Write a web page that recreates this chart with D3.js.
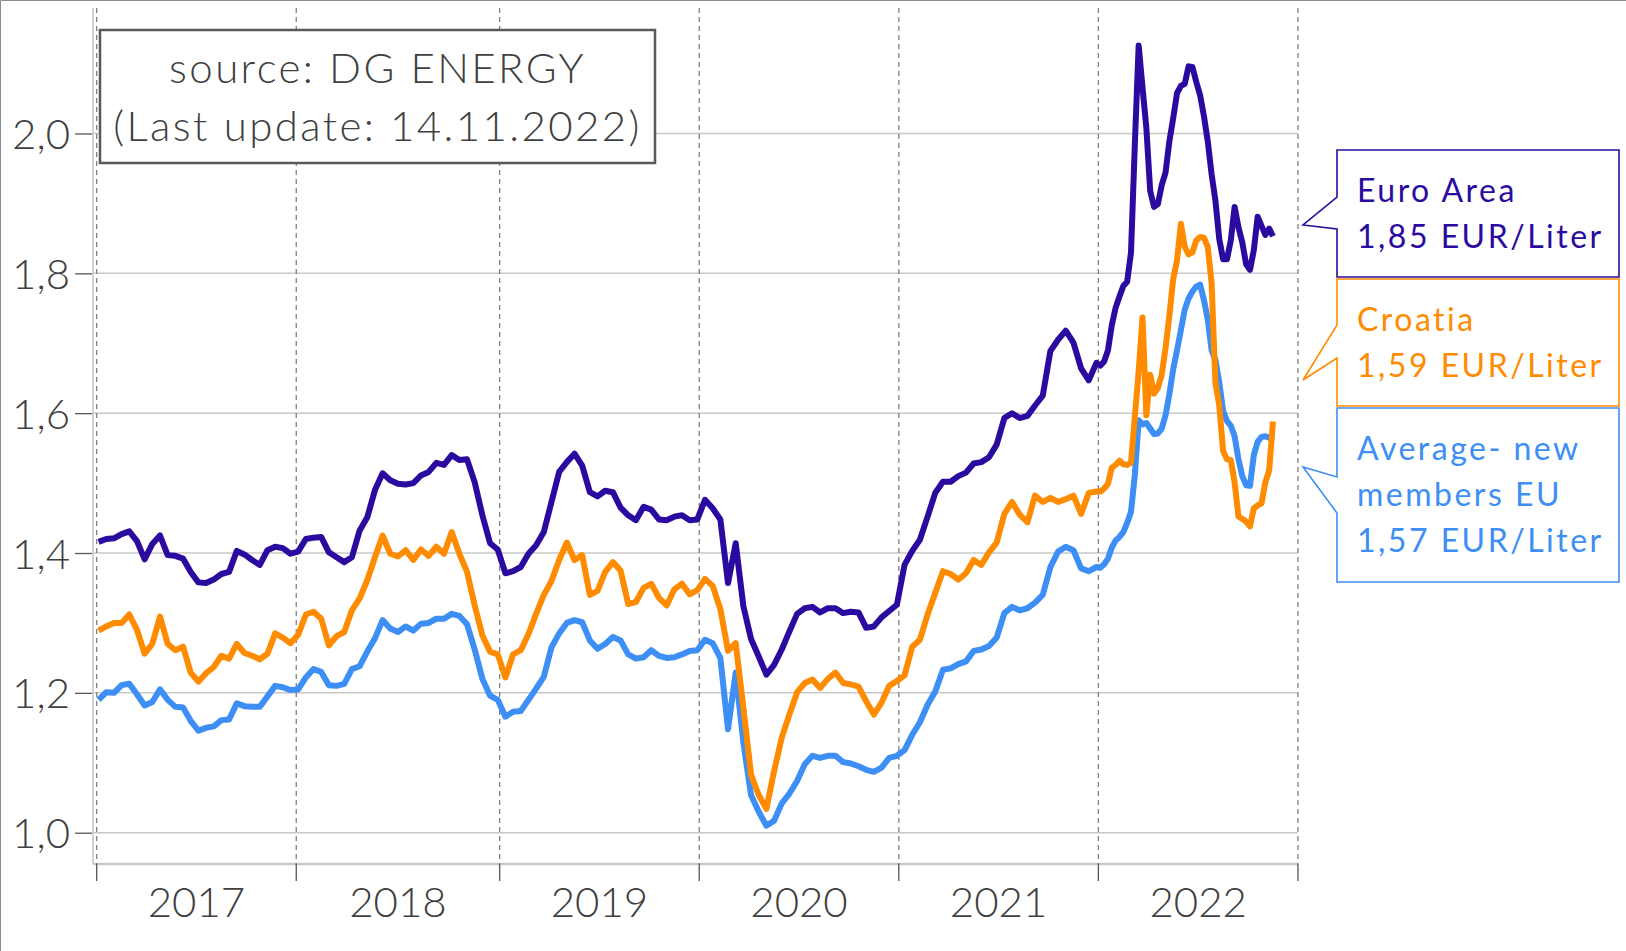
<!DOCTYPE html>
<meta charset="utf-8">
<style>
body{ margin:0; background:#fff; }
svg{ display:block; }
text{ font-family: Lato, "Open Sans", sans-serif; }
</style>
<body>
<script src="https://cdn.jsdelivr.net/npm/d3@7"></script>
<script>

// weekly prices (Mondays). every 2nd week until end of 2021, every week in 2022
var firstWeek = "2017-01-02";
var weekNo = d3.range(0, 261, 2).concat(d3.range(261, 307));

var euroArea = [
  1.416,1.420,1.421,1.427,1.431,1.417,1.391,1.413,1.425,1.397,1.396,1.392,1.373,1.358,1.357,1.362,1.370,1.373,1.403,1.398,1.390,1.383,1.404,1.409,1.407,1.399,
  1.402,1.420,1.422,1.423,1.401,1.394,1.387,1.394,1.432,1.451,1.490,1.514,1.504,1.499,1.498,1.500,1.511,1.516,1.529,1.526,1.540,1.533,1.534,1.501,1.454,1.414,
  1.405,1.371,1.374,1.380,1.399,1.411,1.430,1.473,1.516,1.530,1.542,1.525,1.487,1.481,1.489,1.487,1.465,1.454,1.447,1.466,1.462,1.448,1.447,1.452,1.454,1.447,
  1.448,1.476,1.464,1.448,1.357,1.414,1.324,1.277,1.252,1.226,1.240,1.262,1.288,1.313,1.321,1.323,1.315,1.321,1.321,1.314,1.316,1.315,1.293,1.295,1.308,1.317,
  1.326,1.383,1.403,1.419,1.452,1.486,1.502,1.502,1.510,1.515,1.528,1.530,1.537,1.555,1.593,1.600,1.593,1.596,1.611,1.625,1.689,1.705,1.718,1.701,1.664,1.647,1.672,
  1.668,1.674,1.690,1.726,1.751,1.767,1.782,1.788,1.830,1.984,2.126,2.066,2.008,1.918,1.895,1.899,1.926,1.944,1.989,2.022,2.058,2.068,2.071,
  2.096,2.095,2.074,2.055,2.025,1.989,1.942,1.904,1.849,1.820,1.820,1.847,1.895,1.866,1.844,1.813,1.805,1.833,1.881,1.868,1.855,1.864,1.853
];
var croatia = [
  1.289,1.295,1.300,1.300,1.312,1.290,1.256,1.270,1.309,1.270,1.261,1.266,1.229,1.216,1.228,1.237,1.253,1.249,1.270,1.257,1.253,1.248,1.256,1.285,1.279,1.271,
  1.283,1.312,1.316,1.306,1.268,1.281,1.287,1.318,1.335,1.361,1.394,1.425,1.399,1.395,1.404,1.390,1.405,1.396,1.409,1.399,1.430,1.399,1.373,1.325,1.282,1.259,
  1.255,1.222,1.255,1.261,1.284,1.313,1.340,1.360,1.390,1.415,1.390,1.397,1.340,1.346,1.373,1.387,1.375,1.327,1.330,1.350,1.356,1.336,1.325,1.348,1.356,1.341,
  1.347,1.363,1.353,1.320,1.260,1.271,1.179,1.083,1.054,1.034,1.088,1.136,1.169,1.201,1.214,1.219,1.207,1.220,1.229,1.214,1.212,1.209,1.188,1.169,1.186,1.210,
  1.217,1.225,1.266,1.276,1.312,1.343,1.374,1.370,1.362,1.371,1.390,1.383,1.401,1.415,1.456,1.473,1.455,1.444,1.482,1.473,1.479,1.473,1.477,1.482,1.456,1.486,1.488,
  1.488,1.492,1.499,1.522,1.526,1.532,1.527,1.526,1.529,1.595,1.660,1.737,1.597,1.655,1.628,1.636,1.655,1.693,1.740,1.792,1.819,1.871,1.838,
  1.827,1.830,1.847,1.852,1.851,1.838,1.786,1.643,1.611,1.546,1.534,1.533,1.501,1.452,1.449,1.445,1.438,1.464,1.468,1.471,1.501,1.518,1.588
];
var newMembers = [
  1.190,1.201,1.200,1.211,1.213,1.198,1.182,1.187,1.205,1.190,1.180,1.179,1.160,1.146,1.150,1.152,1.161,1.162,1.185,1.181,1.180,1.180,1.195,1.210,1.208,1.204,
  1.205,1.222,1.234,1.230,1.211,1.210,1.213,1.234,1.238,1.259,1.278,1.304,1.292,1.287,1.295,1.289,1.299,1.300,1.306,1.306,1.313,1.310,1.298,1.262,1.220,1.196,
  1.190,1.166,1.173,1.174,1.190,1.206,1.223,1.265,1.285,1.300,1.304,1.301,1.275,1.263,1.270,1.280,1.275,1.255,1.249,1.251,1.261,1.253,1.250,1.251,1.255,1.260,
  1.261,1.276,1.271,1.250,1.148,1.229,1.129,1.054,1.030,1.010,1.017,1.042,1.056,1.074,1.098,1.110,1.107,1.110,1.110,1.101,1.099,1.095,1.090,1.087,1.093,1.107,
  1.110,1.118,1.140,1.158,1.183,1.202,1.233,1.235,1.241,1.245,1.260,1.262,1.267,1.279,1.314,1.323,1.318,1.321,1.329,1.340,1.380,1.402,1.409,1.404,1.378,1.374,1.380,
  1.379,1.384,1.392,1.408,1.418,1.423,1.430,1.443,1.459,1.512,1.590,1.584,1.586,1.578,1.570,1.571,1.578,1.597,1.627,1.663,1.690,1.719,1.748,
  1.764,1.774,1.781,1.784,1.762,1.734,1.690,1.676,1.644,1.603,1.589,1.582,1.567,1.534,1.510,1.497,1.496,1.540,1.559,1.566,1.567,1.565,1.568
];

var years = [2017, 2018, 2019, 2020, 2021, 2022, 2023];
var yTicks = [1.0, 1.2, 1.4, 1.6, 1.8, 2.0];
var seriesNames = ["Average- new members EU", "Croatia", "Euro Area"];
var colors = ["#3d8ef5", "#ff8c00", "#2b0b9f"];
var sourceLines = ["source: DG ENERGY", "(Last update: 14.11.2022)"];

var width = 1626, height = 951;
var plotTop = 8, plotBottom = 864, plotLeft = 93;

var t0 = d3.utcParse("%Y-%m-%d")(firstWeek);
var dates = weekNo.map(function(n) { return d3.utcDay.offset(t0, 7 * n); });

var x = d3.scaleUtc()
    .domain([dates[0], dates[dates.length - 1]])
    .range([98.6, 1273]);
var y = d3.scaleLinear()
    .domain([1, 2])
    .range([832.7, 133.5]);

// year borders sit between the last week of a year and the first one of the next
function yearBorder(yr) {
  var m = d3.utcMonday.ceil(new Date(Date.UTC(yr, 0, 1)));
  return x(new Date(+m - 3.5 * 864e5));
}
var plotRight = yearBorder(2023);
var comma = function(v, f) { return d3.format(f)(v).replace(".", ","); };

var svg = d3.select("body").append("svg")
    .attr("width", width)
    .attr("height", height);

// image frame
svg.append("path").attr("d", "M0.5," + height + "V0.5H" + width)
    .attr("fill", "none").attr("stroke", "#8c8c8c");

// horizontal grid
svg.append("g").selectAll("line").data(yTicks).enter().append("line")
    .attr("x1", plotLeft).attr("x2", plotRight)
    .attr("y1", function(d) { return y(d); }).attr("y2", function(d) { return y(d); })
    .attr("stroke", "#c8c8c8").attr("stroke-width", 1.5);

// frame of plot
svg.append("line").attr("x1", plotLeft).attr("x2", plotLeft).attr("y1", plotTop).attr("y2", plotBottom)
    .attr("stroke", "#c4c4c4").attr("stroke-width", 1.5);
svg.append("line").attr("x1", plotLeft).attr("x2", plotRight).attr("y1", plotBottom).attr("y2", plotBottom)
    .attr("stroke", "#c8c8c8").attr("stroke-width", 2.5);

// year separators + ticks
var yr = svg.append("g").selectAll("g").data(years).enter().append("g");
yr.append("line")
    .attr("x1", yearBorder).attr("x2", yearBorder)
    .attr("y1", plotTop).attr("y2", plotBottom)
    .attr("stroke", "#808080").attr("stroke-width", 1.3).attr("stroke-dasharray", "5,4");
yr.append("line")
    .attr("x1", yearBorder).attr("x2", yearBorder)
    .attr("y1", plotBottom).attr("y2", plotBottom + 17)
    .attr("stroke", "#555").attr("stroke-width", 1.3);

svg.append("g").selectAll("text").data(years.slice(0, -1)).enter().append("text")
    .attr("x", function(d) { return (yearBorder(d) + yearBorder(d + 1)) / 2; })
    .attr("y", 917)
    .attr("text-anchor", "middle")
    .style("font-size", "42px").style("font-weight", 300).attr("fill", "#404040")
    .text(function(d) { return d; });

// y axis
var yAxis = svg.append("g")
    .attr("transform", "translate(" + (plotLeft - 1) + ",0)")
    .call(d3.axisLeft(y).tickValues(yTicks).tickSize(17).tickPadding(5)
      .tickFormat(function(d) { return comma(d, ".1f"); }));
yAxis.select(".domain").remove();
yAxis.selectAll(".tick line").attr("stroke", "#555").attr("stroke-width", 1.3);
yAxis.selectAll(".tick text")
    .attr("dy", null).attr("y", 15)
    .style("font-size", "42px").style("font-weight", 300)
    .style("font-family", "Lato, 'Open Sans', sans-serif").attr("fill", "#404040");

// lines
var line = d3.line()
    .defined(function(d) { return d.v != null; })
    .x(function(d) { return x(d.date); })
    .y(function(d) { return y(d.v); });

[newMembers, croatia, euroArea].forEach(function(vals, i) {
  var pts = dates.map(function(d, j) { return {date: d, v: vals[j]}; });
  svg.append("path")
      .datum(pts)
      .attr("fill", "none")
      .attr("stroke", colors[i])
      .attr("stroke-width", 6)
      .attr("stroke-linejoin", "round")
      .attr("d", line);
});

// source box
svg.append("rect").attr("x", 100).attr("y", 30).attr("width", 555).attr("height", 133)
    .attr("fill", "#fff").attr("stroke", "#595959").attr("stroke-width", 2.5);
svg.append("g").selectAll("text").data(sourceLines).enter().append("text")
    .attr("x", 377.5)
    .attr("y", function(d, i) { return 83 + i * 58; })
    .attr("text-anchor", "middle")
    .style("font-size", "42px").style("font-weight", 300).style("letter-spacing", "2.4px")
    .attr("fill", "#404040")
    .text(function(d) { return d; });

// callouts (box with pointer towards the last value)
var callouts = [
  {lines: ["Euro Area", comma(euroArea[euroArea.length - 1], ".2f") + " EUR/Liter"], c: colors[2],
   top: 150, bottom: 277, n1: 197, n2: 229, tip: 225},
  {lines: ["Croatia", comma(croatia[croatia.length - 1], ".2f") + " EUR/Liter"], c: colors[1],
   top: 279, bottom: 406, n1: 325, n2: 358, tip: 380},
  {lines: ["Average- new", "members EU", comma(newMembers[newMembers.length - 1], ".2f") + " EUR/Liter"], c: colors[0],
   top: 408, bottom: 582, n1: 477, n2: 513, tip: 467}
];
var bx0 = 1337, bx1 = 1619, tipX = 1303;
callouts.forEach(function(o) {
  svg.append("path")
      .attr("d", "M" + bx0 + "," + o.top + "H" + bx1 + "V" + o.bottom + "H" + bx0 +
                 "V" + o.n2 + "L" + tipX + "," + o.tip + "L" + bx0 + "," + o.n1 + "Z")
      .attr("fill", "#fff").attr("stroke", o.c).attr("stroke-width", 1.6);
  o.lines.forEach(function(t, i) {
    svg.append("text")
        .attr("x", 1357)
        .attr("y", o.top + 52 + i * 46)
        .style("font-size", "32px").style("letter-spacing", "2.5px")
        .attr("fill", o.c)
        .text(t);
  });
});

</script>
</body>
